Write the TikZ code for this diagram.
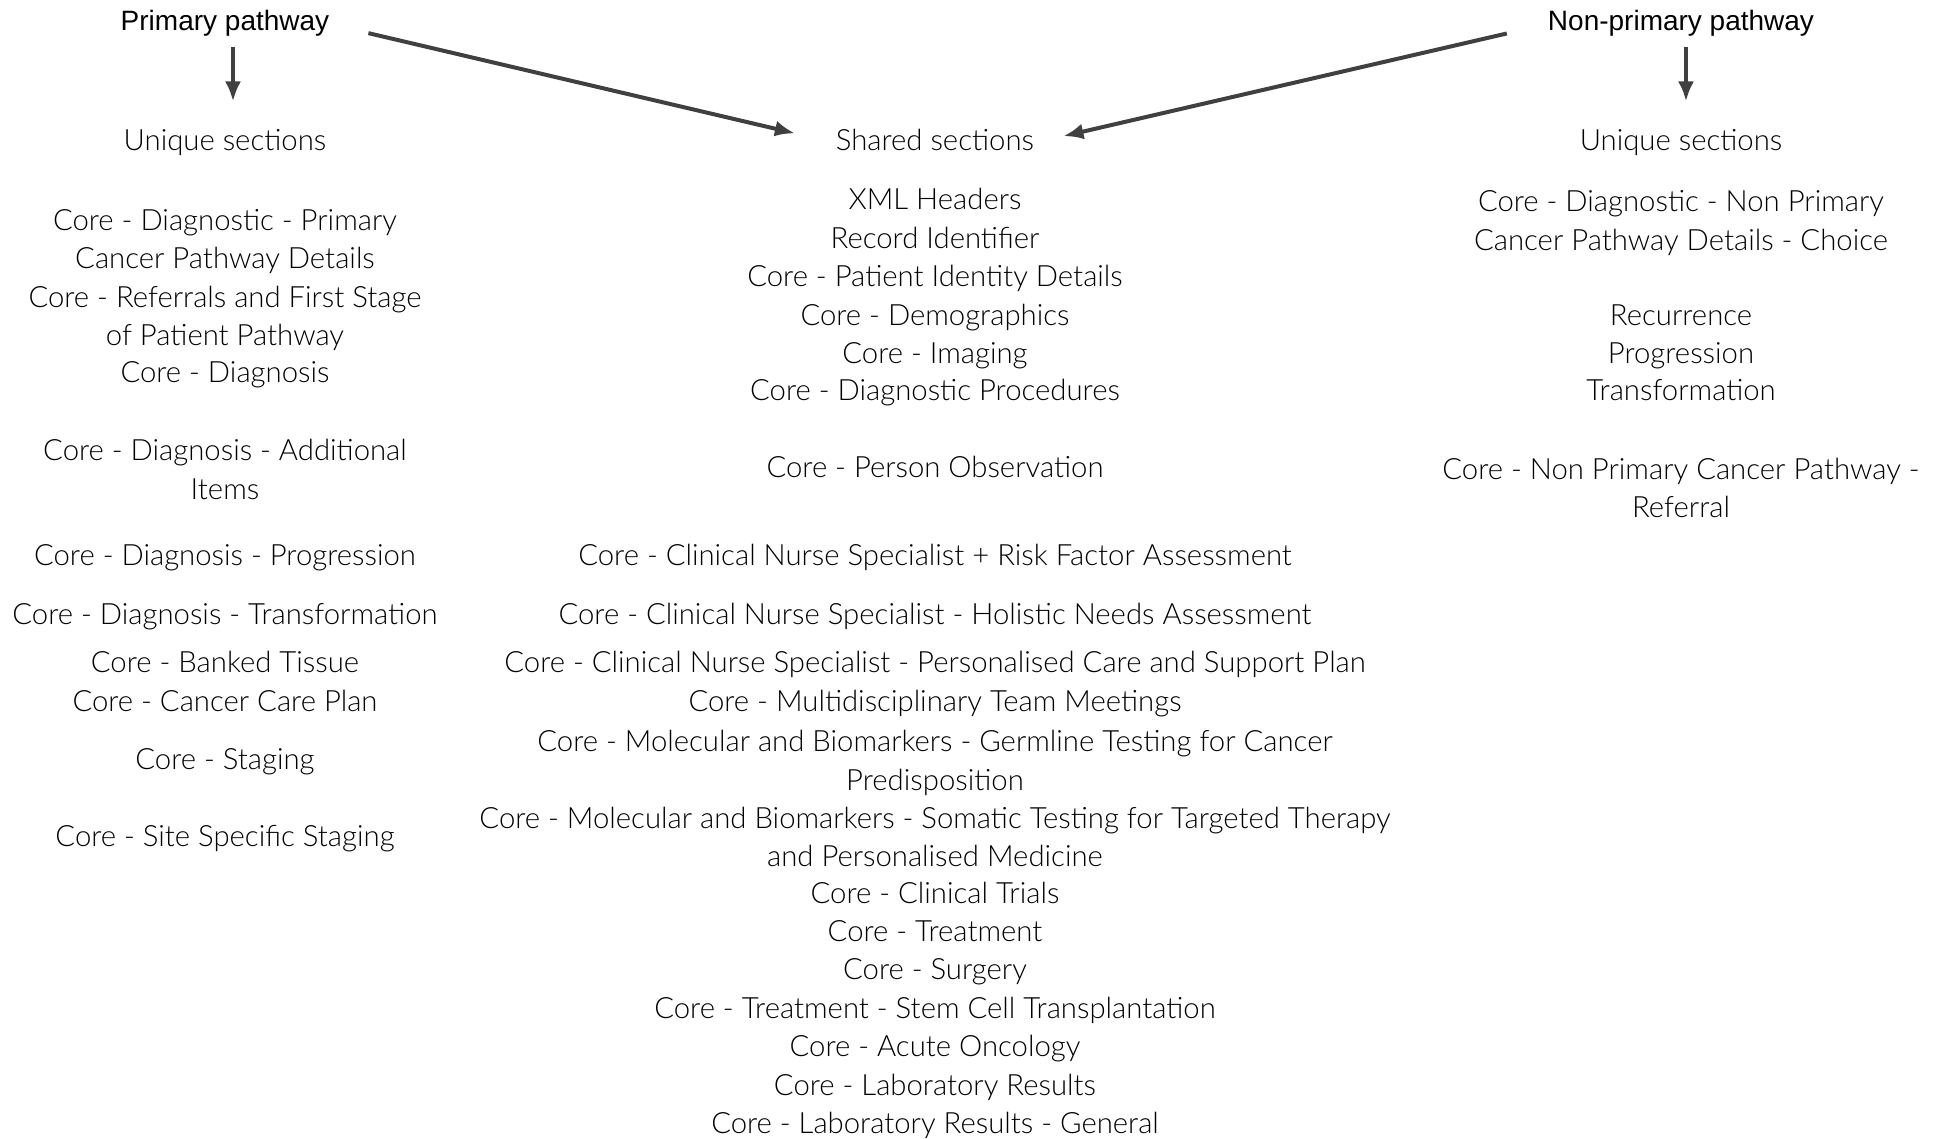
\documentclass[tikz,border=0pt]{standalone}
\usepackage{fontspec}
\setmainfont{Lato Light}
\newfontfamily\headfont{Liberation Sans}
\usetikzlibrary{arrows.meta}

\tikzset{
  head/.style={font=\headfont\fontsize{28}{33.6}\selectfont, inner sep=0pt, text height=20pt, text depth=6pt, anchor=base},
  sec/.style={font=\fontsize{29.3}{38.4}\selectfont, align=center, inner sep=0pt, anchor=north, execute at begin node=\strut},
  flow/.style={draw=black!75, line width=4pt, -{Latex[length=20pt,width=16pt]}},
}

\begin{document}
\begin{tikzpicture}[x=1pt,y=-1pt]

            \useasboundingbox (0,0) rectangle (1941,1139);

            % pathways
            \node[head] (pp) at (225,31) {Primary pathway};
            \node[head] (np) at (1681,31) {Non-primary pathway};

            \node[sec] (pu) at (225,123.5) {Unique sections};
            \node[sec] (sh) at (935,123.5) {Shared sections};
            \node[sec] (nu) at (1681,123.5) {Unique sections};

            \draw[flow, shorten <=10pt, shorten >=22pt] ([xshift=8pt]pp.south) -- ([xshift=8pt]pu.north);
            \draw[flow, shorten <=40pt, shorten >=42pt] (pp.east) -- (sh.west);
            \draw[flow, shorten <=42pt, shorten >=30pt] (np.west) -- (sh.east);
            \draw[flow, shorten <=10pt, shorten >=22pt] ([xshift=5pt]np.south) -- ([xshift=5pt]nu.north);

            % primary sections
            \node[sec] (l1) at (225,209) {Core - Diagnostic - Primary\\Cancer Pathway Details};
            \node[sec] (l2) at (225,285.8) {Core - Referrals and First Stage\\of Patient Pathway};
            \node[sec] (l3) at (225,355) {Core - Diagnosis};
            \node[sec] (l4) at (225,439.3) {Core - Diagnosis - Additional\\Items};
            \node[sec] (l5) at (225,538.2) {Core - Diagnosis - Progression};
            \node[sec] (l6) at (225,597.6) {Core - Diagnosis - Transformation};
            \node[sec] (l7) at (225,645.9) {Core - Banked Tissue};
            \node[sec] (l8) at (225,684.3) {Core - Cancer Care Plan};
            \node[sec] (l9) at (225,742.5) {Core - Staging};
            \node[sec] (l10) at (225,819.2) {Core - Site Specific Staging};

            % shared sections
            \node[sec] (m1) at (935,182.9) {XML Headers};
            \node[sec] (m2) at (935,221.3) {Record Identifier};
            \node[sec] (m3) at (935,259.7) {Core - Patient Identity Details};
            \node[sec] (m4) at (935,298.1) {Core - Demographics};
            \node[sec] (m5) at (935,336.4) {Core - Imaging};
            \node[sec] (m6) at (935,373.6) {Core - Diagnostic Procedures};
            \node[sec] (m7) at (935,450.3) {Core - Person Observation};
            \node[sec] (m8) at (935,538.2) {Core - Clinical Nurse Specialist + Risk Factor Assessment};
            \node[sec] (m9) at (935,597.6) {Core - Clinical Nurse Specialist - Holistic Needs Assessment};
            \node[sec] (m10) at (935,645.9) {Core - Clinical Nurse Specialist - Personalised Care and Support Plan};
            \node[sec] (m11) at (935,684.3) {Core - Multidisciplinary Team Meetings};
            \node[sec] (m12) at (935,730.2) {Core - Molecular and Biomarkers - Germline Testing for Cancer\\Predisposition};
            \node[sec] (m13) at (935,806.9) {Core - Molecular and Biomarkers - Somatic Testing for Targeted Therapy\\and Personalised Medicine};
            \node[sec] (m14) at (935,876.2) {Core - Clinical Trials};
            \node[sec] (m15) at (935,914.5) {Core - Treatment};
            \node[sec] (m16) at (935,952.9) {Core - Surgery};
            \node[sec] (m17) at (935,991.3) {Core - Treatment - Stem Cell Transplantation};
            \node[sec] (m18) at (935,1029.7) {Core - Acute Oncology};
            \node[sec] (m19) at (935,1068.0) {Core - Laboratory Results};
            \node[sec] (m20) at (935,1106.4) {Core - Laboratory Results - General};

            % non-primary sections
            \node[sec] (r1) at (1681,190.4) {Core - Diagnostic - Non Primary\\Cancer Pathway Details - Choice};
            \node[sec] (r2) at (1681,298.1) {Recurrence};
            \node[sec] (r3) at (1681,336.4) {Progression};
            \node[sec] (r4) at (1681,373.6) {Transformation};
            \node[sec] (r5) at (1681,457.8) {Core - Non Primary Cancer Pathway -\\Referral};

\end{tikzpicture}
\end{document}
